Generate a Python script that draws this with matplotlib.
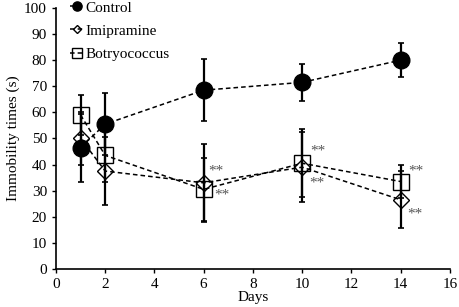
import matplotlib
matplotlib.use("Agg")
import matplotlib.pyplot as plt
import numpy as np

plt.rcParams['font.family'] = ['Liberation Serif', 'DejaVu Serif']

days = [1, 2, 6, 10, 14]

control = [46.5, 55.5, 68.5, 71.5, 80.0]
control_err = [13.0, 12.0, 12.0, 7.0, 6.5]

imipramine = [50.0, 37.5, 33.0, 39.0, 26.5]
imipramine_err = [10.0, 13.0, 15.0, 13.5, 11.0]

botryo = [59.0, 43.5, 30.5, 40.5, 33.5]
botryo_err = [7.5, 10.0, 12.0, 13.0, 6.5]

# significance marks (x, y) for "**"
stars_x = [6.18, 6.42, 10.33, 10.3, 14.3, 14.28]
stars_y = [37.5, 28.5, 45.0, 33.0, 37.5, 21.0]

fig = plt.figure(figsize=(4.59, 3.07), dpi=100)
ax = fig.add_axes([0.122, 0.124, 0.858, 0.85])

dash = (0, (3, 2))
for vals, errs in [(control, control_err), (imipramine, imipramine_err), (botryo, botryo_err)]:
    ax.errorbar(days, vals, yerr=errs, fmt='none', ecolor='black',
                elinewidth=1.6, capsize=2, capthick=1.2, zorder=2)

ax.plot(days, control, linestyle=dash, color='black', lw=1.1, marker='o',
        ms=12, mfc='black', mec='black', label='Control', zorder=3)
ax.plot(days, imipramine, linestyle=dash, color='black', lw=1.1, marker='D',
        ms=8, mfc='none', mec='black', mew=1.0, label='Imipramine', zorder=4)
ax.plot(days, botryo, linestyle=dash, color='black', lw=1.1, marker='s',
        ms=12, mfc='none', mec='black', mew=1.0, label='Botryococcus', zorder=4)

for sx, sy in zip(stars_x, stars_y):
    ax.text(sx, sy, '**', color='#555555', fontsize=11, ha='left', va='center')

ax.set_xlim(0, 16)
ax.set_ylim(0, 100)
ax.set_xticks(np.arange(0, 17, 2))
ax.set_yticks(np.arange(0, 101, 10))
ax.tick_params(labelsize=11, direction='out', length=3, width=1)
ax.set_xlabel('Days', fontsize=11, labelpad=0)
ax.set_ylabel('Immobility times (s)', fontsize=11, labelpad=3)
for side in ['top', 'right']:
    ax.spines[side].set_visible(False)
for side in ['left', 'bottom']:
    ax.spines[side].set_linewidth(1.2)

leg = ax.legend(loc='upper left', bbox_to_anchor=(0.0, 1.08), frameon=False,
                fontsize=11, handlelength=0.9, markerscale=0.55,
                handletextpad=0.15, labelspacing=0.62)

fig.savefig('out.png', dpi=100)
